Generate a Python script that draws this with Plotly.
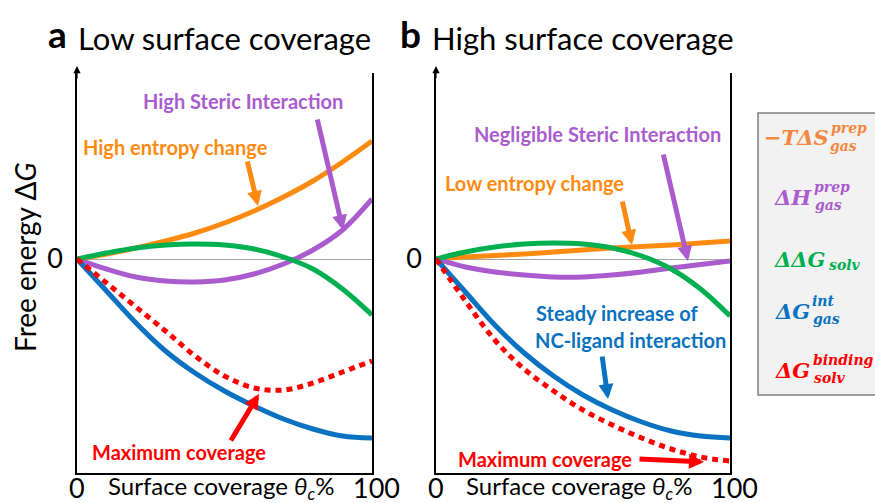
import plotly.graph_objects as go

# ---------------- data ----------------
coverage = [0, 10, 20, 30, 40, 50, 60, 70, 80, 90, 100]

# panel a : low surface coverage
a_entropy = [0, 0.05, 0.11, 0.18, 0.26, 0.36, 0.48, 0.62, 0.78, 0.97, 1.18]
a_enthalpy = [0, -0.10, -0.18, -0.22, -0.23, -0.21, -0.15, -0.05, 0.09, 0.29, 0.60]
a_solv = [0, 0.06, 0.11, 0.14, 0.15, 0.14, 0.10, 0.02, -0.10, -0.30, -0.56]
a_int = [0, -0.32, -0.64, -0.92, -1.14, -1.32, -1.47, -1.60, -1.70, -1.77, -1.79]
a_binding = [0, -0.24, -0.48, -0.72, -0.97, -1.17, -1.29, -1.31, -1.24, -1.13, -1.02]

# panel b : high surface coverage
b_entropy = [0, 0.02, 0.035, 0.05, 0.07, 0.09, 0.11, 0.125, 0.14, 0.16, 0.18]
b_enthalpy = [0, -0.08, -0.13, -0.16, -0.18, -0.18, -0.16, -0.13, -0.09, -0.055, -0.02]
b_solv = [0, 0.07, 0.12, 0.15, 0.16, 0.15, 0.11, 0.03, -0.10, -0.30, -0.57]
b_int = [0, -0.33, -0.66, -0.94, -1.17, -1.36, -1.51, -1.63, -1.72, -1.77, -1.79]
b_binding = [0, -0.42, -0.81, -1.10, -1.32, -1.51, -1.66, -1.79, -1.90, -1.98, -2.02]

x_ticks = [0, 100]
x_ticktext = ["0", "100"]
y_ticks = [0]
y_ticktext = ["0"]

# ---------------- style ----------------
W, H = 875, 503
C_OR = "#FF8A10"
C_PU = "#AA5CCF"
C_GR = "#00B050"
C_BL = "#0A72C0"
C_RD = "#FF0000"
FONT = "Lato"


def PX(x):
    return x / W


def PY(y):
    return 1 - y / H


fig = go.Figure()

series = [
    ("x", "y", a_entropy, a_enthalpy, a_solv, a_int, a_binding),
    ("x2", "y2", b_entropy, b_enthalpy, b_solv, b_int, b_binding),
]
for xa, ya, ent, enth, solv, inter, bind in series:
    for vals, col, dash in [
        (ent, C_OR, "solid"),
        (enth, C_PU, "solid"),
        (solv, C_GR, "solid"),
        (inter, C_BL, "solid"),
        (bind, C_RD, "6px,5px"),
    ]:
        fig.add_trace(go.Scatter(
            x=coverage, y=vals, xaxis=xa, yaxis=ya, mode="lines",
            line=dict(color=col, width=5, dash=dash, shape="spline", smoothing=1.0),
            hoverinfo="skip", showlegend=False))

axis_common = dict(showgrid=False, ticks="", showline=True, linecolor="black",
                   linewidth=1.5, automargin=False,
                   tickfont=dict(family=FONT, size=27, color="black"))
y_range = [-2.14, 1.86]

fig.update_layout(
    width=W, height=H, margin=dict(l=0, r=0, t=0, b=0, autoexpand=False),
    paper_bgcolor="white", plot_bgcolor="white", showlegend=False,
    xaxis=dict(domain=[PX(77), PX(372)], range=[0, 100], showticklabels=False,
               zeroline=False, **axis_common),
    xaxis2=dict(domain=[PX(436), PX(730)], range=[0, 100], showticklabels=False,
                zeroline=False, anchor="y2", **axis_common),
    yaxis=dict(domain=[PY(473), PY(73)], range=y_range, tickvals=y_ticks,
               ticktext=y_ticktext, mirror=True, zeroline=True, ticklabelstandoff=7,
               zerolinecolor="#a6a6a6", zerolinewidth=1.2, **axis_common),
    yaxis2=dict(domain=[PY(473), PY(73)], range=y_range, tickvals=y_ticks,
                ticktext=y_ticktext, mirror=True, zeroline=True, anchor="x2",
                ticklabelstandoff=7,
                zerolinecolor="#a6a6a6", zerolinewidth=1.2, **axis_common),
)

ann = []

# x-axis tick labels, placed on the data scale of each x axis
for xref in ("x", "x2"):
    for v, t in zip(x_ticks, x_ticktext):
        ann.append(dict(x=v, y=PY(487), xref=xref, yref="paper", text=t, showarrow=False,
                        xanchor="center", yanchor="middle", xshift=4 if v == 100 else 0,
                        font=dict(family=FONT, size=27, color="black")))


def text(x, y, s, color="black", size=20, bold=False, family=FONT, angle=0):
    if bold:
        s = "<b>" + s + "</b>"
    ann.append(dict(x=PX(x), y=PY(y), xref="paper", yref="paper", text=s, showarrow=False,
                    xanchor="center", yanchor="middle", textangle=angle,
                    font=dict(family=family, size=size, color=color)))


def arrow(tx, ty, hx, hy, color, width=5, size=0.6, head=2):
    ann.append(dict(x=PX(hx), y=PY(hy), xref="paper", yref="paper", ax=tx - hx, ay=ty - hy,
                    axref="pixel", ayref="pixel", text="", showarrow=True,
                    arrowhead=head, arrowwidth=width, arrowsize=size, arrowcolor=color))


# panel titles
text(58, 34, "<b>a</b>", size=37)
text(225, 38, "Low surface coverage", size=31)
text(410, 34, "<b>b</b>", size=37)
text(583, 38, "High surface coverage", size=31)

# axis titles
text(25, 257, "Free energy Δ<i>G</i>", size=28, angle=-90)
text(221, 487, "Surface coverage <i>θ</i><sub><i>c</i></sub>%", size=24)
text(579, 487, "Surface coverage <i>θ</i><sub><i>c</i></sub>%", size=24)

# axis arrows
for x0 in (77, 436):
    arrow(x0, 80, x0, 66, "black", width=1.2, size=1.2, head=2)

# panel a labels
text(243, 101, "High Steric Interaction", C_PU, bold=True)
text(175, 147, "High entropy change", C_OR, bold=True)
text(179, 452, "Maximum coverage", C_RD, bold=True)
arrow(317, 118, 343, 230, C_PU)
arrow(247, 160, 258, 206, C_OR)
arrow(230, 442, 259, 394, C_RD)

# panel b labels
text(597, 134, "Negligible Steric Interaction", C_PU, bold=True)
text(534, 183, "Low entropy change", C_OR, bold=True)
text(617, 313, "Steady increase of", C_BL, bold=True)
text(630, 340, "NC-ligand interaction", C_BL, bold=True)
text(545, 459, "Maximum coverage", C_RD, bold=True)
arrow(663, 153, 688, 261, C_PU)
arrow(622, 200, 632, 245, C_OR)
arrow(602, 355, 608, 399, C_BL)
arrow(638, 459, 704, 462, C_RD)

# legend box
fig.add_shape(type="rect", xref="paper", yref="paper", x0=PX(758), x1=PX(890),
              y0=PY(395), y1=PY(113), fillcolor="#f2f2f2",
              line=dict(color="#7f7f7f", width=1.5))

SERIF = "DejaVu Serif"
# (base, base centre x, superscript, its centre x, subscript, its centre x, colour, centre y)
leg = [
    ("−<i>T</i>Δ<i>S</i>", 796, "prep", 849, "gas", 843, "#F5873F", 138),
    ("Δ<i>H</i>", 793, "prep", 832, "gas", 828, C_PU, 197),
    ("ΔΔ<i>G</i>", 800, None, 0, "solv", 845, C_GR, 259),
    ("Δ<i>G</i>", 792, "int", 823, "gas", 826, C_BL, 311),
    ("Δ<i>G</i>", 792, "binding", 843, "solv", 830, C_RD, 370),
]
for base, bx, sup, sx, sub, ux, col, yc in leg:
    text(bx, yc, "<b><i>" + base + "</i></b>", col, size=21, family=SERIF)
    if sup:
        text(sx, yc - 10, "<b><i>" + sup + "</i></b>", col, size=14, family=SERIF)
    text(ux, yc + 8 if sup else yc + 6, "<b><i>" + sub + "</i></b>", col, size=14,
         family=SERIF)

fig.update_layout(annotations=ann)
fig.write_html(
    "out.html",
    config={"displayModeBar": False},
    post_script="document.body.style.margin='0';document.body.style.overflow='hidden';")
